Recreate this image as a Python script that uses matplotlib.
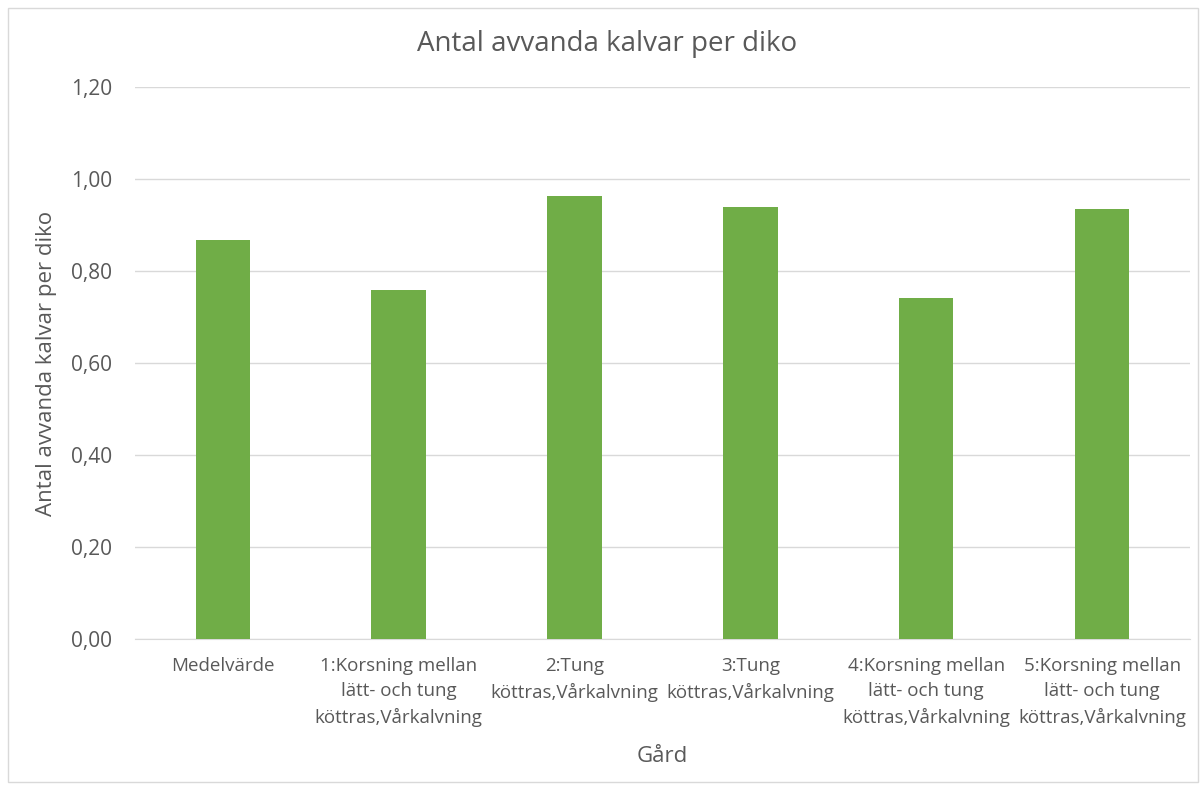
import matplotlib.pyplot as plt
from matplotlib.patches import Rectangle

categories = [
    "Medelvärde",
    "1:Korsning mellan\nlätt- och tung\nköttras,Vårkalvning",
    "2:Tung\nköttras,Vårkalvning",
    "3:Tung\nköttras,Vårkalvning",
    "4:Korsning mellan\nlätt- och tung\nköttras,Vårkalvning",
    "5:Korsning mellan\nlätt- och tung\nköttras,Vårkalvning",
]
values = [0.867, 0.759, 0.964, 0.940, 0.742, 0.934]
yticks = [0.0, 0.2, 0.4, 0.6, 0.8, 1.0, 1.2]
ytick_labels = ["0,00", "0,20", "0,40", "0,60", "0,80", "1,00", "1,20"]

plt.rcParams["font.family"] = ["Open Sans", "DejaVu Sans"]
text_color = "#595959"

fig = plt.figure(figsize=(12.02, 7.85), dpi=100)
ax = fig.add_axes([0.1123, 0.186, 0.8777, 0.703])

x = range(len(categories))
ax.bar(x, values, width=0.31, color="#70ad47", zorder=3)

ax.set_xlim(-0.5, len(categories) - 0.5)
ax.set_ylim(0, 1.2)
ax.set_yticks(yticks)
ax.set_yticklabels(ytick_labels, fontsize=15, color=text_color)
ax.set_xticks(list(x))
ax.set_xticklabels(categories, fontsize=13.5, color=text_color, linespacing=1.5, va="top")
ax.tick_params(axis="both", length=0)
ax.tick_params(axis="y", pad=16.5)
ax.tick_params(axis="x", pad=13)
ax.grid(axis="y", color="#d9d9d9", linewidth=1, zorder=0)
for s in ["top", "right", "left"]:
    ax.spines[s].set_visible(False)
ax.spines["bottom"].set_color("#d9d9d9")

ax.set_ylabel("Antal avvanda kalvar per diko", fontsize=16, color=text_color)
ax.yaxis.set_label_coords(-0.074, 0.5)
fig.text(0.551, 0.036, "Gård", ha="center", va="center", fontsize=16, color=text_color)
fig.text(0.505, 0.944, "Antal avvanda kalvar per diko", ha="center", va="center",
         fontsize=20, color=text_color)

# light border around the chart area
fig.add_artist(Rectangle((0.007, 0.004), 0.99, 0.986, transform=fig.transFigure,
                         fill=False, edgecolor="#d9d9d9", linewidth=1))

plt.savefig("out.png", dpi=100, facecolor="white")
